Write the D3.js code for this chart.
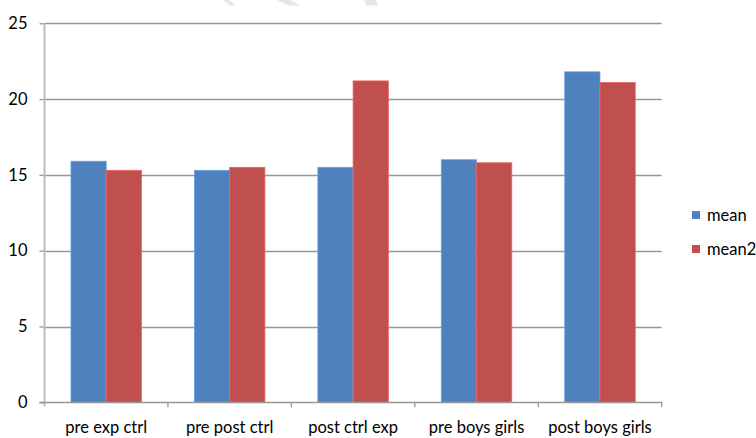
<!DOCTYPE html>
<html>
<head>
<meta charset="utf-8">
<script src="https://cdn.jsdelivr.net/npm/d3@7"></script>
<style>
  html, body { margin: 0; padding: 0; background: #fff; }
  svg { display: block; }
  text { font-family: Lato, "Liberation Sans", sans-serif; fill: #000; }
</style>
</head>
<body>
<svg id="chart" width="756" height="438"></svg>
<script>
// Group labels, series names and the two series of means
const categories = ["pre exp ctrl", "pre post ctrl", "post ctrl exp", "pre boys girls", "post boys girls"];
const seriesNames = ["mean", "mean2"];
const meanValues = [15.9, 15.3, 15.5, 16.0, 21.8];
const mean2Values = [15.3, 15.5, 21.2, 15.8, 21.1];
const yTickValues = [0, 5, 10, 15, 20, 25];
const colors = ["#4F81BD", "#C0504D"];

const svg = d3.select("#chart");
const plot = { left: 44.5, right: 661.7, top: 23.3, bottom: 402.3 };

const rows = categories.map((c, i) => ({ category: c, values: [meanValues[i], mean2Values[i]] }));

const x0 = d3.scaleBand().domain(categories).range([plot.left, plot.right]).padding(0);
const gap = x0.bandwidth() * 0.2145;
const x1 = d3.scaleBand().domain(seriesNames).range([gap, x0.bandwidth() - gap]).padding(0);
const y = d3.scaleLinear().domain([0, 25]).range([plot.bottom, plot.top]);

// faint watermark fragments along the top edge
const wm = svg.append("g").attr("fill", "#e6e6e6");
[[223, 229, 236, 230], [277, 290, 301, 288], [364, 376, 378, 366]].forEach(p => {
  wm.append("polygon").attr("points", `${p[0]},0 ${p[1]},0 ${p[2]},5.5 ${p[3]},5.5`);
});

// horizontal gridlines
svg.append("g")
  .selectAll("line")
  .data(yTickValues.filter(v => v > 0))
  .join("line")
  .attr("x1", plot.left)
  .attr("x2", plot.right)
  .attr("y1", d => Math.round(y(d)) + 0.5)
  .attr("y2", d => Math.round(y(d)) + 0.5)
  .attr("stroke", "#979797")
  .attr("stroke-width", 1.3);

// bars
const groups = svg.append("g")
  .selectAll("g")
  .data(rows)
  .join("g")
  .attr("transform", d => `translate(${x0(d.category)},0)`);

groups.selectAll("rect")
  .data(d => d.values.map((v, i) => ({ series: seriesNames[i], value: v, color: colors[i] })))
  .join("rect")
  .attr("x", d => x1(d.series))
  .attr("width", x1.bandwidth())
  .attr("y", d => y(d.value))
  .attr("height", d => y(0) - y(d.value))
  .attr("fill", d => d.color)
  .attr("stroke", d => d3.color(d.color).brighter(0.6))
  .attr("stroke-width", 0.8);

// y axis
const yAxis = svg.append("g")
  .attr("transform", `translate(${plot.left},0)`)
  .call(d3.axisLeft(y).tickValues(yTickValues).tickSize(5).tickPadding(12).tickSizeOuter(0));
yAxis.select(".domain").remove();
yAxis.selectAll(".tick line").attr("stroke", "#979797").attr("stroke-width", 1.3);
yAxis.selectAll(".tick text").style("font-size", "16.5px").attr("fill", "#000");
yAxis.append("line")
  .attr("x1", 0).attr("x2", 0)
  .attr("y1", plot.top).attr("y2", plot.bottom + 4)
  .attr("stroke", "#bdbdbd")
  .attr("stroke-width", 2);

// x axis baseline, boundary ticks and category labels
const xAxis = svg.append("g");
xAxis.append("line")
  .attr("x1", plot.left - 5).attr("x2", plot.right)
  .attr("y1", Math.round(y(0)) + 0.5).attr("y2", Math.round(y(0)) + 0.5)
  .attr("stroke", "#979797")
  .attr("stroke-width", 1.3);
const boundaries = categories.map(c => x0(c)).concat([x0.range()[1]]);
xAxis.selectAll("line.bt")
  .data(boundaries.slice(1))
  .join("line")
  .attr("class", "bt")
  .attr("x1", d => d).attr("x2", d => d)
  .attr("y1", y(0)).attr("y2", y(0) + 5)
  .attr("stroke", "#979797")
  .attr("stroke-width", 1.3);

const labelAxis = svg.append("g")
  .attr("transform", `translate(0,${plot.bottom})`)
  .call(d3.axisBottom(x0).tickSize(0).tickPadding(19));
labelAxis.select(".domain").remove();
labelAxis.selectAll(".tick text").style("font-size", "16.5px").attr("fill", "#000");

// legend
const legend = svg.append("g")
  .selectAll("g")
  .data(seriesNames)
  .join("g")
  .attr("transform", (d, i) => `translate(692,${211 + i * 34})`);
legend.append("rect")
  .attr("width", 8).attr("height", 8)
  .attr("fill", (d, i) => colors[i]);
legend.append("text")
  .attr("x", 15).attr("y", 4)
  .attr("dy", "0.35em")
  .style("font-size", "16.5px")
  .text(d => d);
</script>
</body>
</html>
